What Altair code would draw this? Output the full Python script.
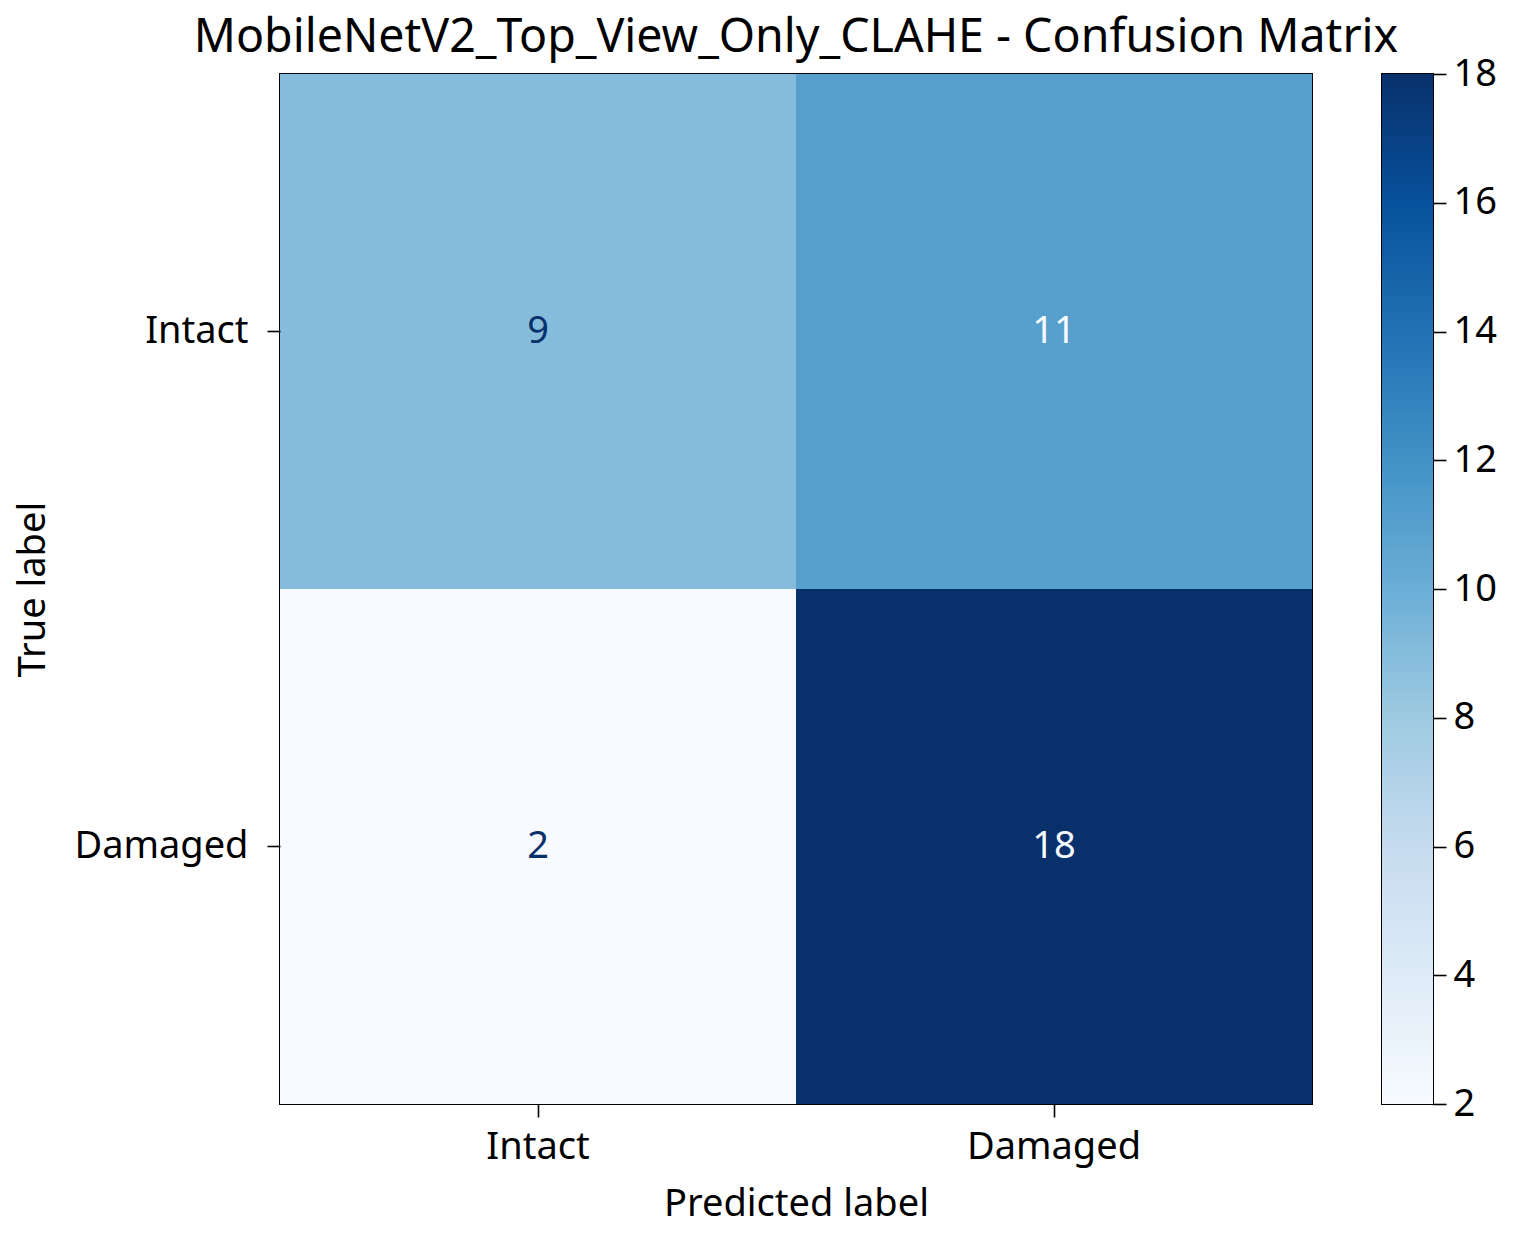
import altair as alt
import pandas as pd

classes = ["Intact", "Damaged"]
true_labels = ["Intact", "Intact", "Damaged", "Damaged"]
pred_labels = ["Intact", "Damaged", "Intact", "Damaged"]
counts = [9, 11, 2, 18]

cbar_ticks = [2, 4, 6, 8, 10, 12, 14, 16, 18]
blues = ["#f7fbff", "#deebf7", "#c6dbef", "#9ecae1", "#6baed6",
         "#4292c6", "#2171b5", "#08519c", "#08306b"]
threshold = 10

FONT = "Noto Sans"
FS = 38

df = pd.DataFrame({"true": true_labels, "pred": pred_labels, "count": counts})
df["dark"] = df["count"] > threshold

xenc = alt.X("pred:N", sort=classes, title="Predicted label",
             scale=alt.Scale(paddingInner=0, paddingOuter=0),
             axis=alt.Axis(labelAngle=0, tickSize=13, tickWidth=1.6, tickColor="black",
                           domain=False, labelPadding=11, titlePadding=19,
                           labelFontSize=FS, titleFontSize=FS))
yenc = alt.Y("true:N", sort=classes, title="True label",
             scale=alt.Scale(paddingInner=0, paddingOuter=0),
             axis=alt.Axis(tickSize=13, tickWidth=1.6, tickColor="black",
                           domain=False, labelPadding=19, titlePadding=28,
                           labelFontSize=FS, titleFontSize=FS))

base = alt.Chart(df)
cells = base.mark_rect().encode(
    x=xenc, y=yenc,
    color=alt.Color("count:Q", legend=None,
                    scale=alt.Scale(domain=cbar_ticks, range=blues, interpolate="rgb")),
)
text = base.mark_text(font=FONT, fontSize=FS).encode(
    x=alt.X("pred:N", sort=classes),
    y=alt.Y("true:N", sort=classes),
    text="count:Q",
    color=alt.condition("datum.dark", alt.value(blues[0]), alt.value(blues[-1])),
)

main = alt.layer(cells, text).properties(
    width=1032, height=1030,
    title=alt.TitleParams("MobileNetV2_Top_View_Only_CLAHE - Confusion Matrix",
                          fontSize=46.5, font=FONT, fontWeight="normal", offset=13, color="black"),
)

lo, hi = cbar_ticks[0], cbar_ticks[-1]
stops = [alt.GradientStop(offset=(v - lo) / (hi - lo), color=c) for v, c in zip(cbar_ticks, blues)]
cdf = pd.DataFrame({"lo": [lo], "hi": [hi]})
cbar = alt.Chart(cdf).mark_rect(
    color=alt.LinearGradient(gradient="linear", stops=stops, x1=0, x2=0, y1=1, y2=0)
).encode(
    x=alt.value(0), x2=alt.value(51),
    y=alt.Y("lo:Q", scale=alt.Scale(domain=[lo, hi], nice=False, zero=False),
            axis=alt.Axis(orient="right", values=cbar_ticks, tickSize=13, tickWidth=1.6,
                          tickColor="black", domain=False, grid=False, labelPadding=7,
                          labelFontSize=FS, title=None)),
    y2="hi:Q",
).properties(width=51, height=1030)

chart = alt.hconcat(main, cbar, spacing=70, bounds="flush").configure(
    font=FONT
).configure_view(
    stroke="black", strokeWidth=2
).configure_axis(
    labelFont=FONT, titleFont=FONT, labelColor="black", titleColor="black",
    titleFontWeight="normal", grid=False
)

chart.save("out.html", embed_options={"renderer": "svg", "actions": False})
